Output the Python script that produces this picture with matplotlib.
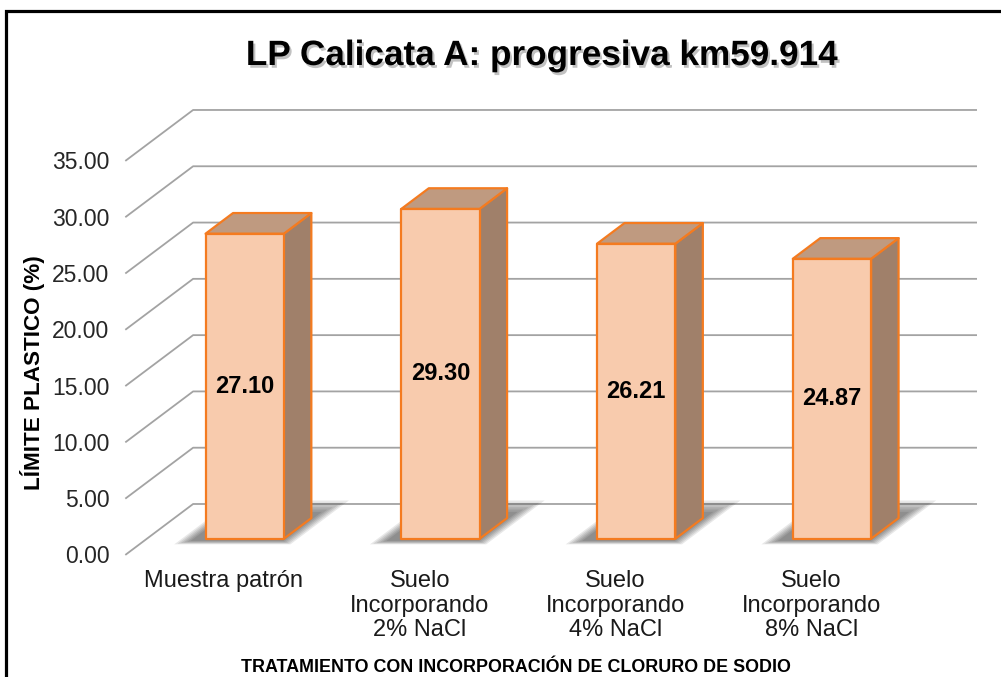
import matplotlib
matplotlib.use('Agg')
import matplotlib.pyplot as plt
from matplotlib.patches import Polygon, Rectangle
import matplotlib.patheffects as pe

# datos del grafico
categories = ['Muestra patrón',
              'Suelo\nIncorporando\n2% NaCl',
              'Suelo\nIncorporando\n4% NaCl',
              'Suelo\nIncorporando\n8% NaCl']
values = [27.10, 29.30, 26.21, 24.87]
yticks = [0, 5, 10, 15, 20, 25, 30, 35]
ytick_labels = ['%.2f' % t for t in yticks]

title = 'LP Calicata A: progresiva km59.914'
ylabel = 'LÍMITE PLASTICO (%)'
xlabel = 'TRATAMIENTO CON INCORPORACIÓN DE CLORURO DE SODIO'

plt.rcParams['font.family'] = ['Liberation Sans', 'DejaVu Sans']

fig = plt.figure(figsize=(10.01, 6.77), dpi=100)
ax = fig.add_axes([0.1259, 0.1811, 0.7822, 0.582])
ax.set_xlim(-0.5, 3.5)
ax.set_ylim(0, 35)
for s in ax.spines.values():
    s.set_visible(False)
ax.patch.set_visible(False)

# direccion de profundidad (3D) en unidades de datos
DX, DY = 0.3427, 4.477


def dep(x, y, d):
    return (x + d * DX, y + d * DY)


# pared del fondo + pared izquierda
for v in yticks:
    ax.plot([-0.5, -0.5 + DX, 3.5 + DX], [v, v + DY, v + DY],
            color='#a3a3a3', lw=1.3, clip_on=False, zorder=1)

d0, d1 = 0.31, 0.72
hw = 0.2
front_c = '#F8CBAD'
top_c = '#BF9A80'
side_c = '#A0806A'
edge_c = '#F47B20'

for i, v in enumerate(values):
    x0, x1 = i - hw, i + hw
    # sombra difusa en el piso
    for k in range(6):
        e = 0.012 * (6 - k)
        ed = 0.045 * (6 - k)
        sx0, sx1 = x0 - 0.05 - e, x1 + 0.0 + e
        sd0, sd1 = d0 - 0.03 - ed * 0.3, d1 + 0.08 + ed
        shp = [dep(sx0, 0, sd0), dep(sx1, 0, sd0), dep(sx1, 0, sd1), dep(sx0, 0, sd1)]
        ax.add_patch(Polygon(shp, closed=True, fc='black', ec='none',
                             alpha=0.09, zorder=2, clip_on=False))
    side = [dep(x1, 0, d0), dep(x1, 0, d1), dep(x1, v, d1), dep(x1, v, d0)]
    top = [dep(x0, v, d0), dep(x1, v, d0), dep(x1, v, d1), dep(x0, v, d1)]
    front = [dep(x0, 0, d0), dep(x1, 0, d0), dep(x1, v, d0), dep(x0, v, d0)]
    ax.add_patch(Polygon(side, closed=True, fc=side_c, ec=edge_c, lw=1.6,
                         joinstyle='round', zorder=3, clip_on=False))
    ax.add_patch(Polygon(top, closed=True, fc=top_c, ec=edge_c, lw=1.6,
                         joinstyle='round', zorder=3, clip_on=False))
    ax.add_patch(Polygon(front, closed=True, fc=front_c, ec=edge_c, lw=1.6,
                         joinstyle='round', zorder=4, clip_on=False))
    cx, cy = dep(i, v / 2, d0)
    ax.text(cx, cy, '%.2f' % v, ha='center', va='center', fontsize=17,
            fontweight='bold', color='black', zorder=5)

ax.set_yticks(yticks, labels=ytick_labels)
ax.tick_params(axis='y', length=0, pad=12, labelsize=16.5, labelcolor='#262626')
ax.set_xticks(range(len(categories)), labels=categories)
ax.tick_params(axis='x', length=0, pad=11, labelsize=17, labelcolor='#1a1a1a')
for lbl in ax.get_xticklabels():
    lbl.set_linespacing(1.17)

fig.text(542 / 1001, 1 - 65 / 677, title, ha='center', va='baseline',
         fontsize=25.3, fontweight='bold', color='black',
         path_effects=[pe.withSimplePatchShadow(offset=(1.5, -2), shadow_rgbFace='#666666', alpha=0.4)])
fig.text(33 / 1001, 1 - 373 / 677, ylabel, rotation=90, ha='center', va='center',
         fontsize=16.2, fontweight='bold', color='black')
fig.text(516 / 1001, 1 - 672 / 677, xlabel, ha='center', va='baseline',
         fontsize=12.9, fontweight='bold', color='black')

# marco exterior (solo arriba e izquierda visibles)
fig.add_artist(Rectangle((5.5 / 1001, -0.1), 1.1, 1.1 - 11 / 677,
                         transform=fig.transFigure, fill=False, ec='black', lw=2.3))

fig.savefig('out.png', dpi=100)
